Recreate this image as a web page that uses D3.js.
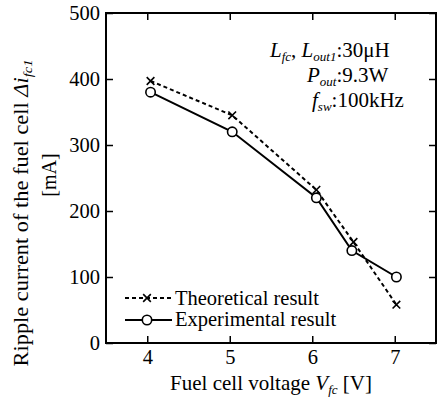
<!DOCTYPE html>
<html>
<head>
<meta charset="utf-8">
<script src="https://cdn.jsdelivr.net/npm/d3@7"></script>
<style>
  body { margin: 0; background: #fff; }
  svg text { font-family: "Liberation Serif", "DejaVu Serif", serif; fill: #000; }
</style>
</head>
<body>
<svg id="chart"></svg>
<script>
// data
const voltageTheo = [4.04, 5.03, 6.05, 6.5, 7.02];
const rippleTheo = [397, 345, 232, 153, 58];
const voltageExp = [4.04, 5.03, 6.05, 6.48, 7.02];
const rippleExp = [380, 320, 220, 140, 100];
const xTicks = [4, 5, 6, 7];
const yTicks = [0, 100, 200, 300, 400, 500];

const width = 437, height = 397;
const margin = { top: 13, right: 1, bottom: 54, left: 106 };
const innerW = width - margin.left - margin.right;
const innerH = height - margin.top - margin.bottom;

const svg = d3.select('#chart').attr('width', width).attr('height', height);
const chart = svg.append('g').attr('transform', `translate(${margin.left},${margin.top})`);

const x = d3.scaleLinear().domain([3.5, 7.5]).range([0, innerW]);
const y = d3.scaleLinear().domain([0, 500]).range([innerH, 0]);

// axes, ticks pointing inward on all four sides
const tickLen = 7;
const axisStyle = g => {
    g.select('.domain').remove();
    g.selectAll('line').attr('stroke', '#000').attr('stroke-width', 1.5);
    g.selectAll('text').style('font-size', '20.5px');
};
chart.append('g')
    .attr('transform', `translate(0,${innerH})`)
    .call(d3.axisBottom(x).tickValues(xTicks).tickSize(-tickLen).tickPadding(6).tickFormat(d3.format('d')))
    .call(axisStyle);
chart.append('g')
    .call(d3.axisTop(x).tickValues(xTicks).tickSize(-tickLen).tickFormat(''))
    .call(axisStyle);
chart.append('g')
    .call(d3.axisLeft(y).tickValues(yTicks).tickSize(-tickLen).tickPadding(6).tickFormat(d3.format('d')))
    .call(axisStyle);
chart.append('g')
    .attr('transform', `translate(${innerW},0)`)
    .call(d3.axisRight(y).tickValues(yTicks).tickSize(-tickLen).tickFormat(''))
    .call(axisStyle);

chart.append('rect')
    .attr('width', innerW).attr('height', innerH)
    .attr('fill', 'none').attr('stroke', '#000').attr('stroke-width', 2);

// series
const theo = voltageTheo.map((v, i) => ({ v, r: rippleTheo[i] }));
const expt = voltageExp.map((v, i) => ({ v, r: rippleExp[i] }));
const line = d3.line().x(d => x(d.v)).y(d => y(d.r));

chart.append('path').datum(theo)
    .attr('d', line).attr('fill', 'none').attr('stroke', '#000')
    .attr('stroke-width', 2).attr('stroke-dasharray', '4,3');
chart.append('path').datum(expt)
    .attr('d', line).attr('fill', 'none').attr('stroke', '#000').attr('stroke-width', 2);

const cross = d3.symbol().type(d3.symbolX).size(40);
chart.selectAll('.theo-pt').data(theo).join('path')
    .attr('class', 'theo-pt')
    .attr('transform', d => `translate(${x(d.v)},${y(d.r)})`)
    .attr('d', cross).attr('fill', 'none').attr('stroke', '#000').attr('stroke-width', 1.6);
chart.selectAll('.exp-pt').data(expt).join('circle')
    .attr('class', 'exp-pt')
    .attr('cx', d => x(d.v)).attr('cy', d => y(d.r)).attr('r', 4.7)
    .attr('fill', '#fff').attr('stroke', '#000').attr('stroke-width', 1.6);

// legend
const legend = svg.append('g').attr('transform', 'translate(125,298)');
legend.append('line').attr('x1', 0).attr('x2', 47).attr('y1', 0).attr('y2', 0)
    .attr('stroke', '#000').attr('stroke-width', 2).attr('stroke-dasharray', '4,3');
legend.append('path').attr('transform', 'translate(22,0)').attr('d', cross)
    .attr('fill', 'none').attr('stroke', '#000').attr('stroke-width', 1.6);
legend.append('text').attr('x', 50).attr('y', 7).style('font-size', '20.5px').text('Theoretical result');
legend.append('line').attr('x1', 0).attr('x2', 47).attr('y1', 22).attr('y2', 22)
    .attr('stroke', '#000').attr('stroke-width', 2);
legend.append('circle').attr('cx', 22).attr('cy', 22).attr('r', 4.7)
    .attr('fill', '#fff').attr('stroke', '#000').attr('stroke-width', 1.6);
legend.append('text').attr('x', 50).attr('y', 28).style('font-size', '20.5px').text('Experimental result');

// annotation with italic subscripts
const sub = (t, s, rest) => {
    t.append('tspan').style('font-style', 'italic').text(s[0]);
    t.append('tspan').style('font-style', 'italic').style('font-size', '13px').attr('dy', 4).text(s[1]);
    t.append('tspan').attr('dy', -4).text(rest);
};
const a1 = svg.append('text').attr('x', 270).attr('y', 57).style('font-size', '21px');
sub(a1, ['L', 'fc'], ', ');
sub(a1, ['L', 'out1'], ':30\u03bcH');
const a2 = svg.append('text').attr('x', 307).attr('y', 82).style('font-size', '21px');
sub(a2, ['P', 'out'], ':9.3W');
const a3 = svg.append('text').attr('x', 312).attr('y', 107).style('font-size', '21px');
sub(a3, ['f', 'sw'], ':100kHz');

// axis titles
const xt = svg.append('text').attr('x', 271).attr('y', 390)
    .attr('text-anchor', 'middle').style('font-size', '21px');
xt.append('tspan').text('Fuel cell voltage ');
xt.append('tspan').style('font-style', 'italic').text('V');
xt.append('tspan').style('font-style', 'italic').style('font-size', '13px').attr('dy', 4).text('fc');
xt.append('tspan').attr('dy', -4).text(' [V]');

// the first line of the y title is drawn slightly stretched along its length, as in the figure
const yt = svg.append('text')
    .attr('transform', 'translate(28,213) rotate(-90) scale(1.12,1)')
    .attr('text-anchor', 'middle').style('font-size', '20px');
yt.append('tspan').text('Ripple current of the fuel cell ');
yt.append('tspan').style('font-style', 'italic').text('\u0394i');
yt.append('tspan').style('font-style', 'italic').style('font-size', '13px').attr('dy', 4).text('fc1');
svg.append('text')
    .attr('transform', 'translate(56,175) rotate(-90)')
    .attr('text-anchor', 'middle').style('font-size', '20px').text('[mA]');
</script>
</body>
</html>
